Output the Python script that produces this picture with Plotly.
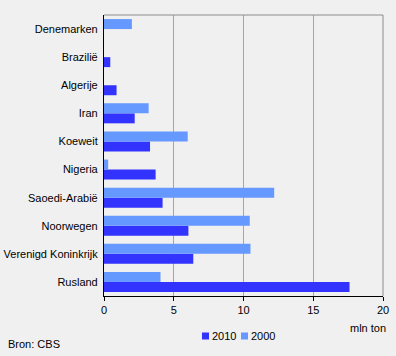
import plotly.graph_objects as go

categories = ["Rusland", "Verenigd Koninkrijk", "Noorwegen", "Saoedi-Arabië", "Nigeria",
              "Koeweit", "Iran", "Algerije", "Brazilië", "Denemarken"]
values_2010 = [17.6, 6.4, 6.05, 4.2, 3.7, 3.3, 2.2, 0.9, 0.45, 0.0]
values_2000 = [4.05, 10.5, 10.45, 12.2, 0.3, 6.0, 3.2, 0.0, 0.0, 2.0]
x_ticks = [0, 5, 10, 15, 20]
series_names = ["2010", "2000"]
series_colors = ["#3333FF", "#6699FF"]

font = "Liberation Sans, Arial, sans-serif"

fig = go.Figure()
for name, vals, col in zip(series_names, [values_2010, values_2000], series_colors):
    fig.add_trace(go.Bar(y=categories, x=vals, orientation="h", name=name,
                         marker=dict(color=col, line=dict(width=0))))

# plot area in pixels: x 104..383, y 15..296
def px(x):
    return (x - 104) / 279.0

def py(y):
    return (296 - y) / 281.0

shapes = [dict(type="line", xref="paper", yref="paper", x0=0, x1=1, y0=1, y1=1,
               line=dict(color="#8C8C8C", width=1)),
          dict(type="line", xref="paper", yref="paper", x0=1, x1=1, y0=0, y1=1,
               line=dict(color="#8C8C8C", width=1))]
annotations = [
    dict(text="mln ton", xref="paper", yref="paper", x=px(388), y=py(327.5), xanchor="right",
         yanchor="middle", showarrow=False, font=dict(size=11)),
    dict(text="Bron: CBS", xref="paper", yref="paper", x=px(6), y=py(344), xanchor="left",
         yanchor="middle", showarrow=False, font=dict(size=11)),
]
# legend (drawn as squares + labels)
for name, col, sx in zip(series_names, series_colors, [202, 241]):
    shapes.append(dict(type="rect", xref="paper", yref="paper", x0=px(sx), x1=px(sx + 7),
                       y0=py(339.5), y1=py(332.5), fillcolor=col, line=dict(width=0)))
    annotations.append(dict(text=name, xref="paper", yref="paper", x=px(sx + 8), y=py(336),
                            xanchor="left", yanchor="middle", showarrow=False,
                            font=dict(size=11)))

fig.update_layout(
    width=396, height=356,
    margin=dict(l=104, r=13, t=15, b=60, autoexpand=False),
    paper_bgcolor="#F0F0F0", plot_bgcolor="#F0F0F0",
    barmode="group", bargap=0.29, bargroupgap=0,
    font=dict(family=font, size=11, color="black"),
    showlegend=False,
    xaxis=dict(range=[0, 20], tickvals=x_ticks, showgrid=True, gridcolor="#A6A6A6", gridwidth=1,
               showline=True, linecolor="black", linewidth=1, ticks="outside", ticklen=4,
               tickcolor="black", zeroline=False, fixedrange=True, automargin=False),
    yaxis=dict(showline=True, linecolor="black", linewidth=1, showgrid=False, ticks="",
               ticksuffix=" ", zeroline=False, automargin=False),
    shapes=shapes,
    annotations=annotations,
)

fig.write_html("out.html", config={"displayModeBar": False},
               post_script="document.body.style.margin='0px';")
